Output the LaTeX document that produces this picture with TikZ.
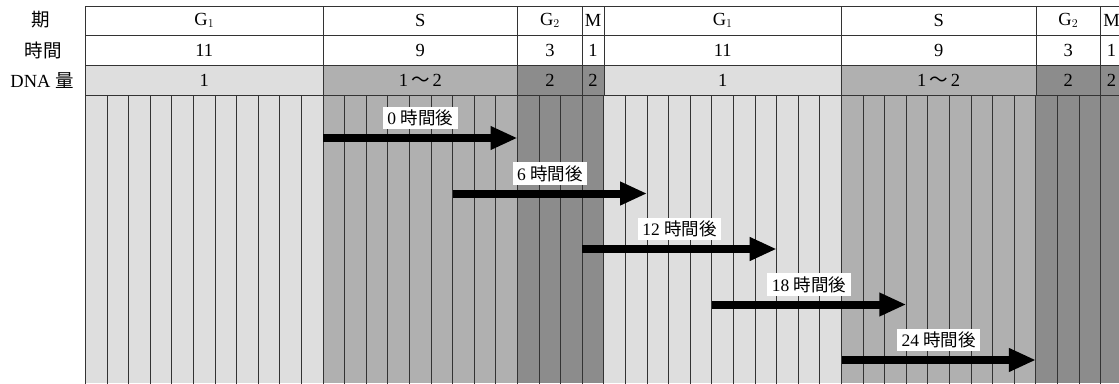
\documentclass[tikz,border=0pt]{standalone}
\usepackage{fontspec}
\setmainfont{Liberation Serif}
\newfontfamily\cjk{Noto Sans CJK JP}
\usetikzlibrary{arrows.meta}
\definecolor{cG}{gray}{0.87}
\definecolor{cS}{gray}{0.69}
\definecolor{cD}{gray}{0.55}
\definecolor{ln}{gray}{0.2}
\begin{document}
\begin{tikzpicture}[x=1pt,y=-1pt,
  txt/.style={font=\fontsize{18.5}{21}\selectfont},
  cell/.style={txt,draw=ln,line width=0.8pt,anchor=north west,outer sep=0pt,inner sep=0pt},
  rowlbl/.style={txt,anchor=center},
  gridline/.style={draw=ln,line width=0.9pt},
  lbl/.style={font=\fontsize{17.5}{20}\selectfont,fill=white,inner xsep=4.5pt,inner ysep=3pt},
  bigarrow/.style={line width=8pt,-{Triangle[length=27pt,width=22pt]}}]
\def\hw{21.6}
\def\xo{85.5}
\def\wave{\hspace{3pt}{\cjk 〜}\hspace{3pt}}
\useasboundingbox (0,0) rectangle (1119,383);
\clip (0,0) rectangle (1119,383);
% row labels
\node[rowlbl] (r1) at (41,20) {\cjk 期};
\node[rowlbl] (r2) at (43,50) {\cjk 時間};
\node[rowlbl] (r3) at (42,80.5) {DNA {\cjk 量}};
% grid background fills
\foreach \s/\n/\col in {0/11/cG,11/9/cS,20/4/cD,24/11/cG,35/9/cS,44/4/cD}{
  \fill[\col] ({\xo+\s*\hw},95.7) rectangle ({\xo+(\s+\n)*\hw},383);
}
\foreach \h in {0,...,48}{
  \draw[gridline] ({\xo+\h*\hw},95.7) -- ({\xo+\h*\hw},384);
}
% header cells
\foreach \s/\n/\ph/\hr/\dna/\col [count=\k] in {
  0/11/G$_1$/11/1/cG,
  11/9/S/9/1\wave 2/cS,
  20/3/G$_2$/3/2/cD,
  23/1/M/1/2/cD,
  24/11/G$_1$/11/1/cG,
  35/9/S/9/1\wave 2/cS,
  44/3/G$_2$/3/2/cD,
  47/1/M/1/2/cD}{
  \node[cell,minimum width={\n*\hw*1pt},minimum height=29pt] (ph\k) at ({\xo+\s*\hw},6) {\ph};
  \node[cell,minimum width={\n*\hw*1pt},minimum height=30pt] (hr\k) at ({\xo+\s*\hw},35) {\hr};
  \node[cell,fill=\col,minimum width={\n*\hw*1pt},minimum height=30.7pt] (dn\k) at ({\xo+\s*\hw},65) {\dna};
}
% arrows
\foreach \t/\s [count=\k from 0] in {0/11,6/17,12/23,18/29,24/35}{
  \coordinate (s\t) at ({\xo+\s*\hw},{138+\k*55.5});
  \coordinate (e\t) at ({\xo+(\s+9)*\hw},{138+\k*55.5});
  \draw[bigarrow] (s\t) -- (e\t);
  \node[lbl] (l\t) at ({\xo+(\s+4.5)*\hw},{118+\k*55.5}) {\t{} {\cjk 時間後}};
}
\end{tikzpicture}
\end{document}
